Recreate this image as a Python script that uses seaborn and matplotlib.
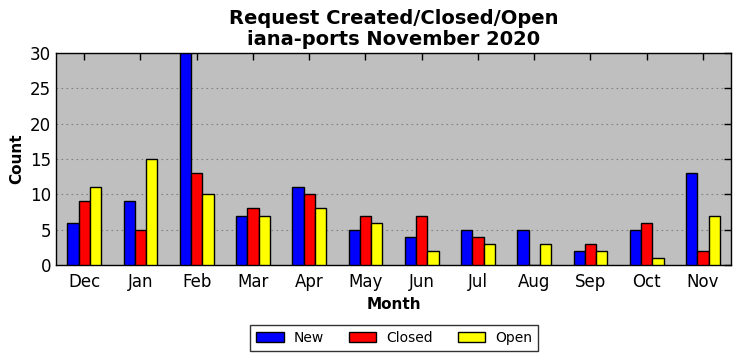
import matplotlib
matplotlib.use("Agg")
import matplotlib.pyplot as plt
import seaborn as sns
import pandas as pd

months = ["Dec", "Jan", "Feb", "Mar", "Apr", "May", "Jun", "Jul", "Aug", "Sep", "Oct", "Nov"]
new_vals = [6, 9, 30, 7, 11, 5, 4, 5, 5, 2, 5, 13]
closed_vals = [9, 5, 13, 8, 10, 7, 7, 4, 0, 3, 6, 2]
open_vals = [11, 15, 10, 7, 8, 6, 2, 3, 3, 2, 1, 7]
series = ["New", "Closed", "Open"]
colors = ["#0000ff", "#ff0000", "#ffff00"]

rows = []
for s, vals in zip(series, [new_vals, closed_vals, open_vals]):
    for m, v in zip(months, vals):
        rows.append({"Month": m, "Series": s, "Count": v})
df = pd.DataFrame(rows)

sns.set_style("white")
plt.rcParams["font.family"] = ["DejaVu Sans"]
plt.rcParams["text.color"] = "black"
plt.rcParams["axes.labelcolor"] = "black"
plt.rcParams["xtick.color"] = "black"
plt.rcParams["ytick.color"] = "black"

fig = plt.figure(figsize=(7.41, 3.61), dpi=100)
ax = fig.add_axes([56/741, 1 - 265/361, 675/741, 212/361])
ax.set_facecolor("#bfbfbf")

sns.barplot(data=df, x="Month", y="Count", hue="Series", order=months,
            hue_order=series, palette=colors, width=0.6, edgecolor="black",
            linewidth=1.0, saturation=1, ax=ax, zorder=3)

ax.set_xlim(-0.5, 11.5)
ax.set_ylim(0, 30)
ax.set_yticks([0, 5, 10, 15, 20, 25, 30])
ax.yaxis.grid(True, linestyle=(0, (1.5, 3)), color="#808080", linewidth=0.8, zorder=0)
ax.set_axisbelow(True)
ax.tick_params(axis="both", direction="in", top=True, right=True, labelsize=12,
               length=5, width=1, color="black", labelcolor="black")
ax.tick_params(axis="x", pad=6)
for sp in ax.spines.values():
    sp.set_color("black")
    sp.set_linewidth(1.0)
ax.set_xlabel("Month", fontsize=11, fontweight="bold", color="black")
ax.set_ylabel("Count", fontsize=11, fontweight="bold", color="black")
ax.set_title("Request Created/Closed/Open\niana-ports November 2020", fontsize=14,
             fontweight="bold", pad=6, linespacing=1.1, color="black")

ax.legend_.remove()
handles, labels = ax.get_legend_handles_labels()
leg = fig.legend(handles, labels, loc="center", bbox_to_anchor=(394/741, 1 - 338/361),
                 ncol=3, fontsize=10, frameon=True, fancybox=False, edgecolor="black",
                 handlelength=2.0, columnspacing=1.8, borderpad=0.4, handletextpad=0.7)
leg.get_frame().set_linewidth(1.0)
for t in leg.get_texts():
    t.set_color("black")

fig.savefig("out.png", dpi=100)
